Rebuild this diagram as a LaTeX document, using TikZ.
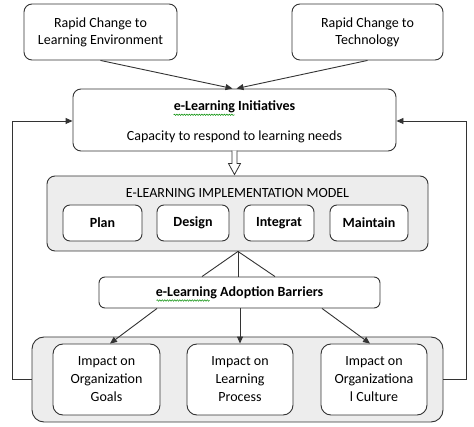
\documentclass[tikz,border=0pt]{standalone}
\usepackage{fontspec}
\setmainfont{Carlito}
\usetikzlibrary{arrows.meta,calc,decorations.pathmorphing}
\begin{document}
\begin{tikzpicture}[x=1pt,y=-1pt,
  box/.style={draw=black!80, line width=0.9pt, rounded corners=8pt, align=center, inner sep=0pt,
    font=\fontsize{14}{17}\selectfont},
  graybox/.style={box, fill=black!7},
  sub/.style={box, fill=white, rounded corners=7pt, font=\fontsize{14}{17}\selectfont\bfseries},
  imp/.style={box, fill=white, rounded corners=10pt, font=\fontsize{14}{18}\selectfont},
  txt/.style={inner sep=0pt, font=\fontsize{14}{17}\selectfont},
  conn/.style={draw=black!80, line width=0.9pt},
  arr/.style={conn, -{Triangle[length=7pt,width=6pt]}},
  squig/.style={draw=green!55!black, line width=0.5pt, decorate,
    decoration={snake, amplitude=0.7pt, segment length=2.5pt}}
]
\useasboundingbox (0,0) rectangle (474,427);

% top boxes
\node[box, minimum width=153pt, minimum height=56pt] (env) at (100.5,32) {Rapid Change to\\Learning Environment};
\node[box, minimum width=151pt, minimum height=56pt] (tech) at (367.5,32) {Rapid Change to\\Technology};

% initiatives
\node[box, minimum width=323pt, minimum height=62pt] (init) at (234.5,120) {};
\node[txt, font=\fontsize{14}{17}\selectfont\bfseries] (initT) at (234.5,107) {e-Learning Initiatives};
\node[txt] (initC) at (234.5,137) {Capacity to respond to learning needs};
\draw[squig] ($(initT.south west)+(0,1.5)$) -- ++(61,0);

\draw[arr] (env.south) -- ($(init.north)+(-2,0)$);
\draw[arr] (tech.south) -- ($(init.north)+(2,0)$);

% implementation model
\node[graybox, minimum width=381pt, minimum height=75pt] (model) at (237.5,213.5) {};
\node[txt] (modelT) at (237.5,193) {E-LEARNING IMPLEMENTATION MODEL};
\node[sub, minimum width=79pt, minimum height=36pt] (plan) at (102.5,223) {Plan};
\node[sub, minimum width=72pt, minimum height=36pt] (design) at (193,223) {Design};
\node[sub, minimum width=70pt, minimum height=36pt] (integ) at (279,223) {Integrat};
\node[sub, minimum width=78pt, minimum height=36pt] (maint) at (369,223) {Maintain};

% hollow arrow
\coordinate (tip) at (init.south |- model.north);
\draw[line width=0.8pt, draw=black!80, fill=white]
  ($(tip)+(-2.5,-25)$) -- ($(tip)+(-2.5,-12)$) -- ($(tip)+(-6,-12)$) -- ($(tip)+(0,-1)$)
  -- ($(tip)+(6,-12)$) -- ($(tip)+(2.5,-12)$) -- ($(tip)+(2.5,-25)$);

% barriers
\node[box, rounded corners=6pt, fill=white, minimum width=281pt, minimum height=31pt,
  font=\fontsize{14}{17}\selectfont\bfseries] (barr) at (239.5,292.5) {e-Learning Adoption Barriers};
\draw[squig] ($(barr.center)+(-83,8)$) -- ++(53,0);
\coordinate (mb) at ($(model.south)+(0.5,0)$);
\draw[conn] (mb) -- ($(barr.north)+(-37.5,0)$);
\draw[conn] (mb) -- ($(barr.north)+(-1.5,0)$);
\draw[conn] (mb) -- ($(barr.north)+(35.5,0)$);

% impacts
\node[graybox, rounded corners=12pt, minimum width=411pt, minimum height=85pt] (impact) at (237.5,379.5) {};
\node[imp, minimum width=107pt, minimum height=71pt] (goals) at (106.5,379.5) {Impact on\\Organization\\Goals};
\node[imp, minimum width=106pt, minimum height=71pt] (proc) at (240,379.5) {Impact on\\Learning\\Process};
\node[imp, minimum width=106pt, minimum height=71pt] (cult) at (374,379.5) {Impact on\\Organizationa\\l Culture};

\draw[arr] ($(barr.south)+(-82.5,0)$) -- ($(goals.north)+(3.5,0)$);
\draw[arr] ($(barr.south)+(0.5,0)$) -- (proc.north);
\draw[arr] ($(barr.south)+(82.5,0)$) -- ($(cult.north)+(-4,0)$);

% feedback loops
\coordinate (lx) at (12,0);
\coordinate (rx) at (466,0);
\draw[arr] (impact.west) -- (impact.west -| lx) -- ($(init.west -| lx)+(0,1)$) -- ($(init.west)+(0,1)$);
\draw[arr] (impact.east) -- (impact.east -| rx) -- ($(init.east -| rx)+(0,1)$) -- ($(init.east)+(0,1)$);
\end{tikzpicture}
\end{document}
